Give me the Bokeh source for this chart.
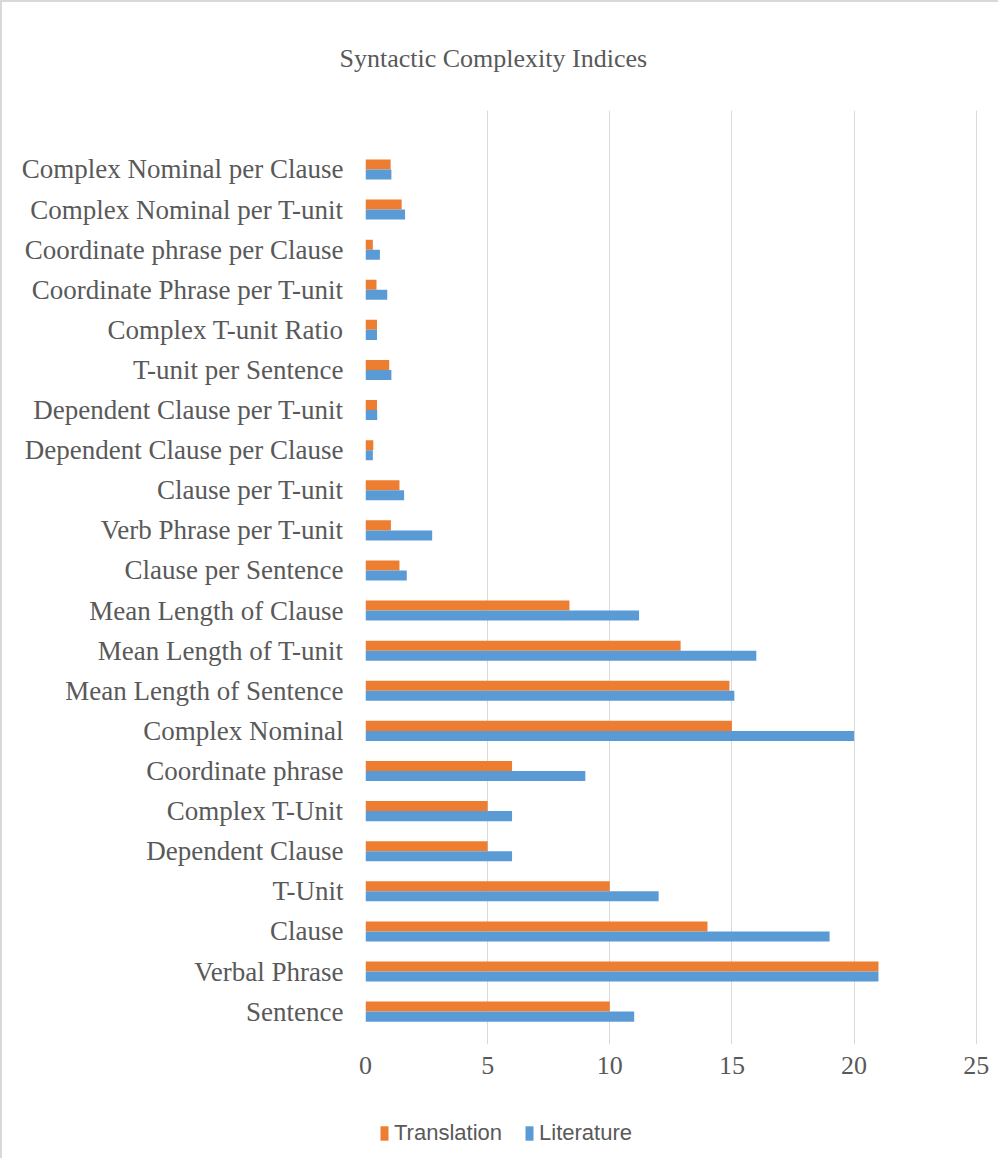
from bokeh.plotting import figure
from bokeh.layouts import column
from bokeh.models import (ColumnDataSource, Range1d, FixedTicker, Title, Legend, LegendItem)
from bokeh.embed import file_html
from bokeh.resources import INLINE

categories = ["Sentence", "Verbal Phrase", "Clause", "T-Unit", "Dependent Clause",
              "Complex T-Unit", "Coordinate phrase", "Complex Nominal",
              "Mean Length of Sentence", "Mean Length of T-unit", "Mean Length of Clause",
              "Clause per Sentence", "Verb Phrase per T-unit", "Clause per T-unit",
              "Dependent Clause per Clause", "Dependent Clause per T-unit",
              "T-unit per Sentence", "Complex T-unit Ratio", "Coordinate Phrase per T-unit",
              "Coordinate phrase per Clause", "Complex Nominal per T-unit",
              "Complex Nominal per Clause"]
translation = [10, 21, 14, 10, 5, 5, 6, 15, 14.9, 12.9, 8.35, 1.39, 1.04, 1.39, 0.32,
               0.47, 0.97, 0.47, 0.45, 0.30, 1.48, 1.03]
literature = [11, 21, 19, 12, 6, 6, 9, 20, 15.1, 16.0, 11.2, 1.69, 2.73, 1.58, 0.30,
              0.48, 1.06, 0.47, 0.89, 0.59, 1.62, 1.06]
x_ticks = [0, 5, 10, 15, 20, 25]
series_names = ["Translation", "Literature"]
chart_title = "Syntactic Complexity Indices"

ORANGE = "#ED7D31"
BLUE = "#5B9BD5"
GREY_TXT = "#595959"
GRID = "#D9D9D9"

idx = list(range(len(categories)))
src = ColumnDataSource(dict(
    cat=categories,
    y_tr=[i + 0.125 for i in idx],
    y_li=[i - 0.125 for i in idx],
    tr=translation,
    li=literature,
))

p = figure(frame_width=618, frame_height=934, output_backend="svg", toolbar_location=None,
           x_range=Range1d(0, 25.3), y_range=Range1d(-0.82, 22.47),
           min_border_left=363, min_border_right=15, min_border_top=108,
           min_border_bottom=44)
p.outline_line_color = None
p.background_fill_color = "white"
p.border_fill_color = "white"

p.hbar(y="y_tr", right="tr", left=0, height=0.25, source=src,
       fill_color=ORANGE, line_color=None)
p.hbar(y="y_li", right="li", left=0, height=0.25, source=src,
       fill_color=BLUE, line_color=None)

# axes
p.xaxis.ticker = FixedTicker(ticks=x_ticks)
p.xaxis.axis_line_color = None
p.xaxis.major_tick_line_color = None
p.xaxis.minor_tick_line_color = None
p.xaxis.major_label_text_font = "Liberation Serif"
p.xaxis.major_label_text_font_size = "26px"
p.xaxis.major_label_text_color = GREY_TXT
p.xaxis.major_label_standoff = 6

p.yaxis.ticker = FixedTicker(ticks=idx)
p.yaxis.major_label_overrides = {i: c for i, c in zip(idx, categories)}
p.yaxis.axis_line_color = None
p.yaxis.major_tick_line_color = None
p.yaxis.minor_tick_line_color = None
p.yaxis.major_label_text_font = "Liberation Serif"
p.yaxis.major_label_text_font_size = "27px"
p.yaxis.major_label_text_color = GREY_TXT
p.yaxis.major_label_standoff = 16

p.xgrid.ticker = FixedTicker(ticks=x_ticks)
p.xgrid.grid_line_color = GRID
p.ygrid.grid_line_color = None

# title
t = Title(text=chart_title, align="left", offset=-26, standoff=76,
          text_font="Liberation Serif", text_font_size="26px",
          text_font_style="normal", text_color=GREY_TXT)
p.add_layout(t, "above")

# legend strip under the chart: key glyphs come from the same data, drawn off-view
lf = figure(width=996, height=70, output_backend="svg", toolbar_location=None,
            x_range=Range1d(0, 1), y_range=Range1d(100, 101), min_border=0)
lf.axis.visible = False
lf.grid.grid_line_color = None
lf.outline_line_color = None
k_tr = lf.hbar(y="y_tr", right="tr", left=0, height=0.25, source=src,
               fill_color=ORANGE, line_color=None)
k_li = lf.hbar(y="y_li", right="li", left=0, height=0.25, source=src,
               fill_color=BLUE, line_color=None)
legend = Legend(items=[LegendItem(label=series_names[0], renderers=[k_tr]),
                       LegendItem(label=series_names[1], renderers=[k_li])],
                orientation="horizontal", location=(14, 12),
                border_line_color=None, background_fill_alpha=0,
                label_text_font="'Liberation Sans Narrow', 'Liberation Sans', sans-serif",
                label_text_font_size="22px", label_text_color=GREY_TXT,
                glyph_width=10, glyph_height=18, label_standoff=5, spacing=22,
                padding=4, margin=0)
lf.add_layout(legend, "center")

layout = column(p, lf, spacing=0)
layout.styles = {"border-left": "2px solid #D9D9D9", "border-top": "2px solid #D9D9D9"}

open("out.html", "w").write(file_html(layout, INLINE))
